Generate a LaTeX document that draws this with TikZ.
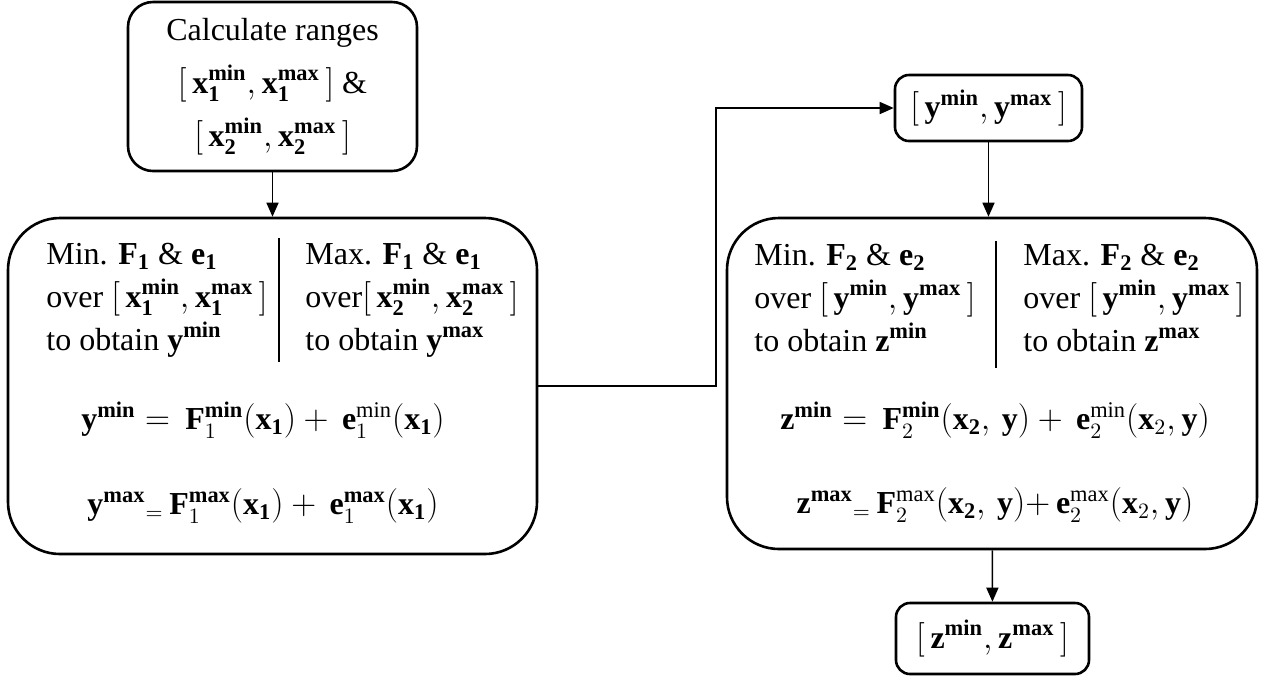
\documentclass[tikz,border=0pt]{standalone}
\usepackage{fontspec}
\setmainfont{Liberation Serif}
\usepackage{tikz}
\usetikzlibrary{positioning,arrows.meta}
\tikzset{
  calcbox/.style={draw, line width=1.3pt, rounded corners=12.5pt, align=center, inner sep=0pt, minimum width=144.5pt, minimum height=84.5pt},
  stagebox/.style={draw, line width=1.3pt, rounded corners=26pt, inner sep=0pt},
  rangebox/.style={draw, line width=1.3pt, rounded corners=7pt, align=center, inner sep=0pt},
  coltext/.style={anchor=west, align=left, inner sep=0pt},
  eqtext/.style={inner sep=0pt},
  colsplit/.style={line width=1.1pt},
  arrow/.style={-{Triangle[length=7pt,width=6pt]}, line width=0.8pt}
}
\newcommand{\bv}[3]{\mathbf{#1}_{\mathbf{#2}}^{\mathbf{#3}}}
\newcommand{\rng}[2]{[\,#1,#2\,]}

\begin{document}
\begin{tikzpicture}[x=0.5pt, y=-0.5pt, font=\fontsize{16}{21.5}\selectfont]
  \useasboundingbox (0,0) rectangle (1265,677);

  % first stage
  \node[calcbox] (calc) at (272.5,86.5) {Calculate ranges\\[5pt] $\rng{\bv{x}{1}{min}}{\bv{x}{1}{max}}$ \&\\[5pt] $\rng{\bv{x}{2}{min}}{\bv{x}{2}{max}}$};
  \node[stagebox, minimum width=264.5pt, minimum height=168pt] (stage1) at (272.5,386) {};
  \node[coltext] (min1) at (46,300) {Min. \textbf{F}$_{\mathbf{1}}$ \& \textbf{e}$_{\mathbf{1}}$\\ over $\rng{\bv{x}{1}{min}}{\bv{x}{1}{max}}$\\ to obtain $\mathbf{y}^{\mathbf{min}}$};
  \node[coltext] (max1) at (305,300) {Max. \textbf{F}$_{\mathbf{1}}$ \& \textbf{e}$_{\mathbf{1}}$\\ over$\rng{\bv{x}{2}{min}}{\bv{x}{2}{max}}$\\ to obtain $\mathbf{y}^{\mathbf{max}}$};
  \draw[colsplit] (279,238) -- (279,362);
  \node[eqtext] (eqmin1) at (263,420) {$\mathbf{y}^{\mathbf{min}} =\,\mathbf{F}_{1}^{\mathbf{min}}(\mathbf{x}_{\mathbf{1}}) +\,\mathbf{e}_{1}^{\mathrm{min}}(\mathbf{x}_{\mathbf{1}})$};
  \node[eqtext] (eqmax1) at (263,506) {$\mathbf{y}^{\mathbf{max}}{}_{=}\,\mathbf{F}_{1}^{\mathbf{max}}(\mathbf{x}_{\mathbf{1}}) +\,\mathbf{e}_{1}^{\mathbf{max}}(\mathbf{x}_{\mathbf{1}})$};

  % second stage
  \node[rangebox, minimum width=93.5pt, minimum height=33pt] (yrange) at (988.5,108) {$\rng{\mathbf{y}^{\mathbf{min}}}{\mathbf{y}^{\mathbf{max}}}$};
  \node[stagebox, minimum width=265pt, minimum height=165.5pt] (stage2) at (992,383.5) {};
  \node[coltext] (min2) at (754,298) {Min. \textbf{F}$_{\mathbf{2}}$ \& \textbf{e}$_{\mathbf{2}}$\\ over $\rng{\mathbf{y}^{\mathbf{min}}}{\mathbf{y}^{\mathbf{max}}}$\\ to obtain $\mathbf{z}^{\mathbf{min}}$};
  \node[coltext] (max2) at (1023,298) {Max. \textbf{F}$_{\mathbf{2}}$ \& \textbf{e}$_{\mathbf{2}}$\\ over $\rng{\mathbf{y}^{\mathbf{min}}}{\mathbf{y}^{\mathbf{max}}}$\\ to obtain $\mathbf{z}^{\mathbf{max}}$};
  \draw[colsplit] (996,241) -- (996,368);
  \node[eqtext] (eqmin2) at (995,420) {$\mathbf{z}^{\mathbf{min}} =\,\mathbf{F}_{2}^{\mathbf{min}}(\mathbf{x}_{\mathbf{2}},\,\mathbf{y}) +\,\mathbf{e}_{2}^{\mathrm{min}}(\mathbf{x}_{2},\mathbf{y})$};
  \node[eqtext] (eqmax2) at (995,505) {$\mathbf{z}^{\mathbf{max}}{}_{=}\,\mathbf{F}_{2}^{\mathrm{max}}(\mathbf{x}_{\mathbf{2}},\,\mathbf{y}){+}\,\mathbf{e}_{2}^{\mathrm{max}}(\mathbf{x}_{2},\mathbf{y})$};
  \node[rangebox, minimum width=96.5pt, minimum height=35.5pt] (zrange) at (992.5,638.5) {$\rng{\mathbf{z}^{\mathbf{min}}}{\mathbf{z}^{\mathbf{max}}}$};

  % connectors
  \coordinate (bend) at (716,108);
  \draw[arrow] (calc) -- (stage1);
  \draw[arrow] (stage1.east) -| (bend) -- (yrange.west);
  \draw[arrow] (yrange.south) -- (yrange.south |- stage2.north);
  \draw[arrow] (stage2) -- (zrange);
\end{tikzpicture}
\end{document}
